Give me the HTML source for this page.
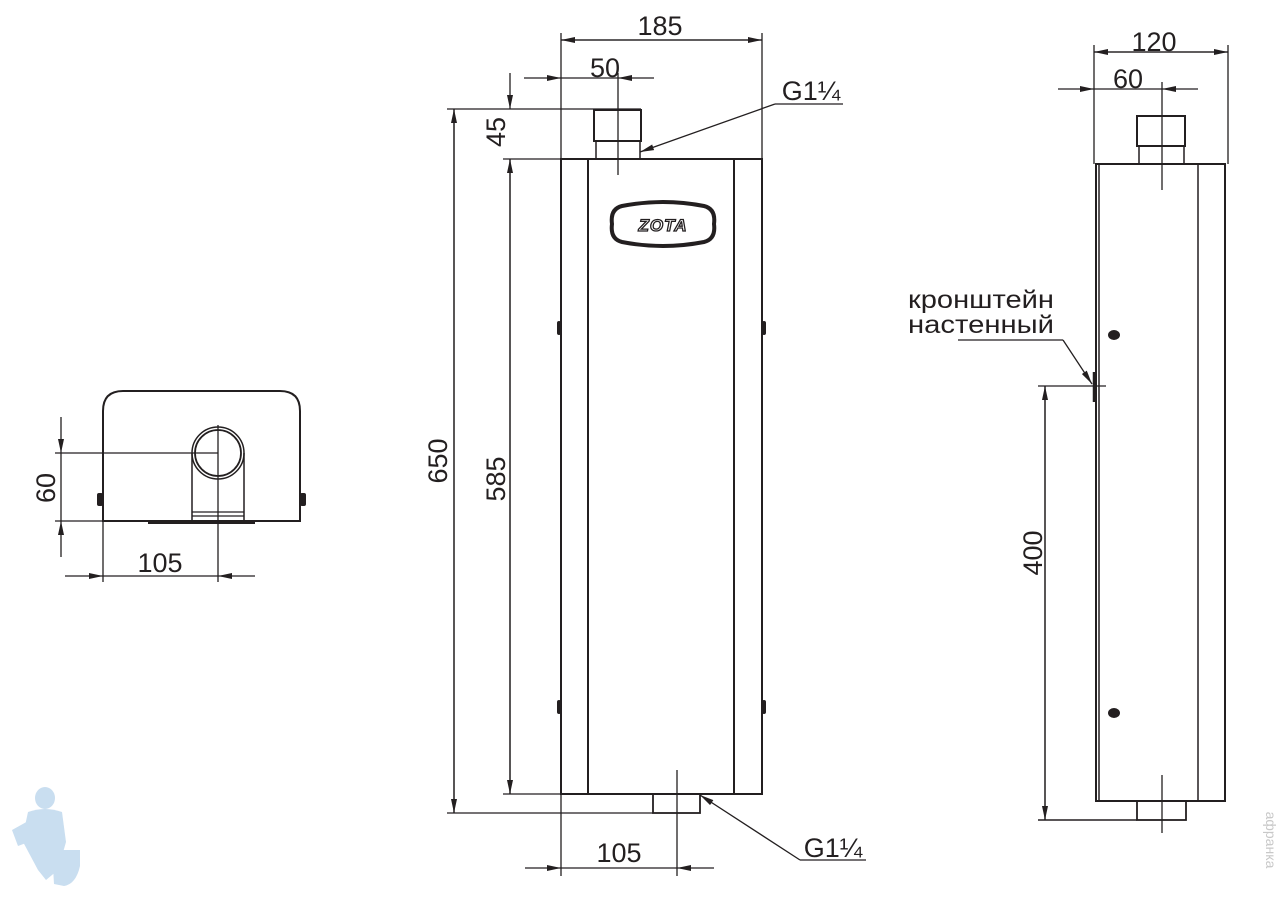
<!DOCTYPE html>
<html><head><meta charset="utf-8"><style>
html,body{margin:0;padding:0;background:#fff;}
svg{display:block;}
text{font-family:"Liberation Sans",sans-serif;fill:#231f20;}
</style></head><body>
<svg width="1286" height="900" viewBox="0 0 1286 900" xmlns="http://www.w3.org/2000/svg">
<defs>
<marker id="a" viewBox="0 0 14 6" refX="14" refY="3" markerWidth="14" markerHeight="6" markerUnits="userSpaceOnUse" orient="auto"><path d="M0,0 L14,3 L0,6 Z" fill="#231f20"/></marker>
</defs>
<g stroke="#231f20" fill="none" stroke-width="1.3">
<!-- FRONT VIEW -->
<rect x="561" y="159" width="201" height="635" stroke-width="2"/>
<line x1="588" y1="159" x2="588" y2="794" stroke-width="2"/>
<line x1="734" y1="159" x2="734" y2="794" stroke-width="2"/>
<rect x="594" y="110" width="47" height="31" stroke-width="2"/>
<path d="M596,141 V159 M640,141 V159" stroke-width="1.5"/>
<line x1="618" y1="73" x2="618" y2="175"/>
<line x1="447" y1="109" x2="641" y2="109"/>
<line x1="503" y1="159" x2="561" y2="159"/>
<line x1="503" y1="794" x2="561" y2="794"/>
<rect x="653" y="794" width="47" height="19" stroke-width="1.8"/>
<line x1="447" y1="813" x2="653" y2="813"/>
<line x1="677" y1="770" x2="677" y2="876"/>
<line x1="561" y1="33" x2="561" y2="876"/>
<line x1="762" y1="33" x2="762" y2="159"/>
<line x1="561" y1="40" x2="762" y2="40" marker-end="url(#a)"/>
<line x1="762" y1="40" x2="561" y2="40" marker-end="url(#a)"/>
<line x1="524" y1="78" x2="561" y2="78" marker-end="url(#a)"/>
<line x1="654" y1="78" x2="618" y2="78" marker-end="url(#a)"/>
<line x1="561" y1="78" x2="618" y2="78"/>
<line x1="510" y1="73" x2="510" y2="109" marker-end="url(#a)"/>
<line x1="510" y1="794" x2="510" y2="159" marker-end="url(#a)"/>
<line x1="510" y1="159" x2="510" y2="794" marker-end="url(#a)"/>
<line x1="454" y1="813" x2="454" y2="109" marker-end="url(#a)"/>
<line x1="454" y1="109" x2="454" y2="813" marker-end="url(#a)"/>
<line x1="525" y1="868" x2="561" y2="868" marker-end="url(#a)"/>
<line x1="714" y1="868" x2="677" y2="868" marker-end="url(#a)"/>
<line x1="561" y1="868" x2="677" y2="868"/>
<line x1="775" y1="104" x2="843" y2="104"/>
<line x1="775" y1="104" x2="640" y2="152" marker-end="url(#a)"/>
<line x1="800" y1="860" x2="866" y2="860"/>
<line x1="800" y1="860" x2="700" y2="795" marker-end="url(#a)"/>
<g fill="#231f20" stroke="none">
<rect x="557" y="321" width="4" height="14" rx="2"/><rect x="557" y="700" width="4" height="14" rx="2"/>
<rect x="762" y="321" width="4" height="14" rx="2"/><rect x="762" y="700" width="4" height="14" rx="2"/>
</g>
<path d="M622,206 Q663,198 704,206 Q716,209 714,224 Q716,239 704,242 Q663,250 622,242 Q610,239 612,224 Q610,209 622,206 Z" stroke-width="4"/>

<!-- LEFT VIEW -->
<path d="M103,521 V411 Q103,391 123,391 H280 Q300,391 300,411 V521 Z" stroke-width="2"/>
<circle cx="218" cy="453" r="26" stroke-width="1.5"/>
<circle cx="218" cy="453" r="23" stroke-width="1.8"/>
<path d="M192,453 V521 M244,453 V521" stroke-width="1.5"/>
<path d="M192,512 H244 M192,516 H244" stroke-width="1.2"/>
<line x1="148" y1="523" x2="255" y2="523" stroke-width="2"/>
<line x1="55" y1="453" x2="218" y2="453"/>
<line x1="55" y1="521" x2="103" y2="521"/>
<line x1="218" y1="425" x2="218" y2="582"/>
<line x1="103" y1="521" x2="103" y2="582"/>
<line x1="61" y1="417" x2="61" y2="453" marker-end="url(#a)"/>
<line x1="61" y1="557" x2="61" y2="521" marker-end="url(#a)"/>
<line x1="61" y1="453" x2="61" y2="521"/>
<line x1="65" y1="576" x2="103" y2="576" marker-end="url(#a)"/>
<line x1="255" y1="576" x2="218" y2="576" marker-end="url(#a)"/>
<line x1="103" y1="576" x2="218" y2="576"/>
<g fill="#231f20" stroke="none"><rect x="97" y="493" width="6" height="13" rx="2"/><rect x="300" y="493" width="6" height="13" rx="2"/></g>

<!-- SIDE VIEW -->
<rect x="1096" y="164" width="129" height="637" stroke-width="2"/>
<line x1="1099" y1="164" x2="1099" y2="801" stroke-width="1.5"/>
<line x1="1198" y1="164" x2="1198" y2="801" stroke-width="1.5"/>
<rect x="1137" y="116" width="48" height="30" stroke-width="2"/>
<path d="M1139,146 V164 M1184,146 V164" stroke-width="1.5"/>
<line x1="1162" y1="82" x2="1162" y2="190"/>
<rect x="1137" y="801" width="49" height="19" stroke-width="1.8"/>
<line x1="1038" y1="820" x2="1137" y2="820" stroke-width="1.5"/>
<line x1="1162" y1="775" x2="1162" y2="833"/>
<line x1="1094" y1="45" x2="1094" y2="164"/>
<line x1="1228" y1="45" x2="1228" y2="164"/>
<line x1="1094" y1="52" x2="1228" y2="52" marker-end="url(#a)"/>
<line x1="1228" y1="52" x2="1094" y2="52" marker-end="url(#a)"/>
<line x1="1058" y1="89" x2="1094" y2="89" marker-end="url(#a)"/>
<line x1="1198" y1="89" x2="1162" y2="89" marker-end="url(#a)"/>
<line x1="1094" y1="89" x2="1162" y2="89"/>
<line x1="1038" y1="386" x2="1106" y2="386"/>
<line x1="1045" y1="820" x2="1045" y2="386" marker-end="url(#a)"/>
<line x1="1045" y1="386" x2="1045" y2="820" marker-end="url(#a)"/>
<line x1="1094" y1="372" x2="1094" y2="402" stroke-width="2.5"/>
<line x1="958" y1="340" x2="1063" y2="340"/>
<line x1="1063" y1="340" x2="1092" y2="384" marker-end="url(#a)"/>
<g fill="#231f20" stroke="none"><ellipse cx="1114" cy="335" rx="6" ry="5"/><ellipse cx="1114" cy="713" rx="6" ry="5"/></g>
</g>
<text x="663" y="231" font-size="17" font-weight="bold" font-style="italic" text-anchor="middle" style="fill:#fff;stroke:#231f20;stroke-width:1.3" letter-spacing="1">ZOTA</text>
<g font-size="27">
<text x="660" y="35" text-anchor="middle">185</text>
<text x="605" y="77" text-anchor="middle">50</text>
<text x="811" y="100" text-anchor="middle">G1¼</text>
<text x="833" y="857" text-anchor="middle">G1¼</text>
<text x="619" y="862" text-anchor="middle">105</text>
<text transform="translate(505,132) rotate(-90)" text-anchor="middle">45</text>
<text transform="translate(447,461) rotate(-90)" text-anchor="middle">650</text>
<text transform="translate(505,479) rotate(-90)" text-anchor="middle">585</text>
<text transform="translate(55,488) rotate(-90)" text-anchor="middle">60</text>
<text x="160" y="572" text-anchor="middle">105</text>
<text x="1154" y="51" text-anchor="middle">120</text>
<text x="1128" y="88" text-anchor="middle">60</text>
<text transform="translate(1042,553) rotate(-90)" text-anchor="middle">400</text>
</g>
<text x="908" y="308" font-size="25" textLength="146" lengthAdjust="spacingAndGlyphs">кронштейн</text>
<text x="908" y="333" font-size="25" textLength="146" lengthAdjust="spacingAndGlyphs">настенный</text>
<text transform="translate(1266,840) rotate(90)" font-size="14" style="fill:#c8c8c8" text-anchor="middle">aфранка</text>
<g fill="#c9def0">
<ellipse cx="45" cy="798" rx="10" ry="11"/>
<path d="M28,812 Q45,806 62,812 L66,842 L58,870 L46,880 L38,870 L22,840 Z"/>
<path d="M12,830 L30,820 L34,840 L18,846 Z"/>
<path d="M52,850 H80 V866 Q76,884 64,886 L54,884 Z"/>
</g>
</svg>
</body></html>
